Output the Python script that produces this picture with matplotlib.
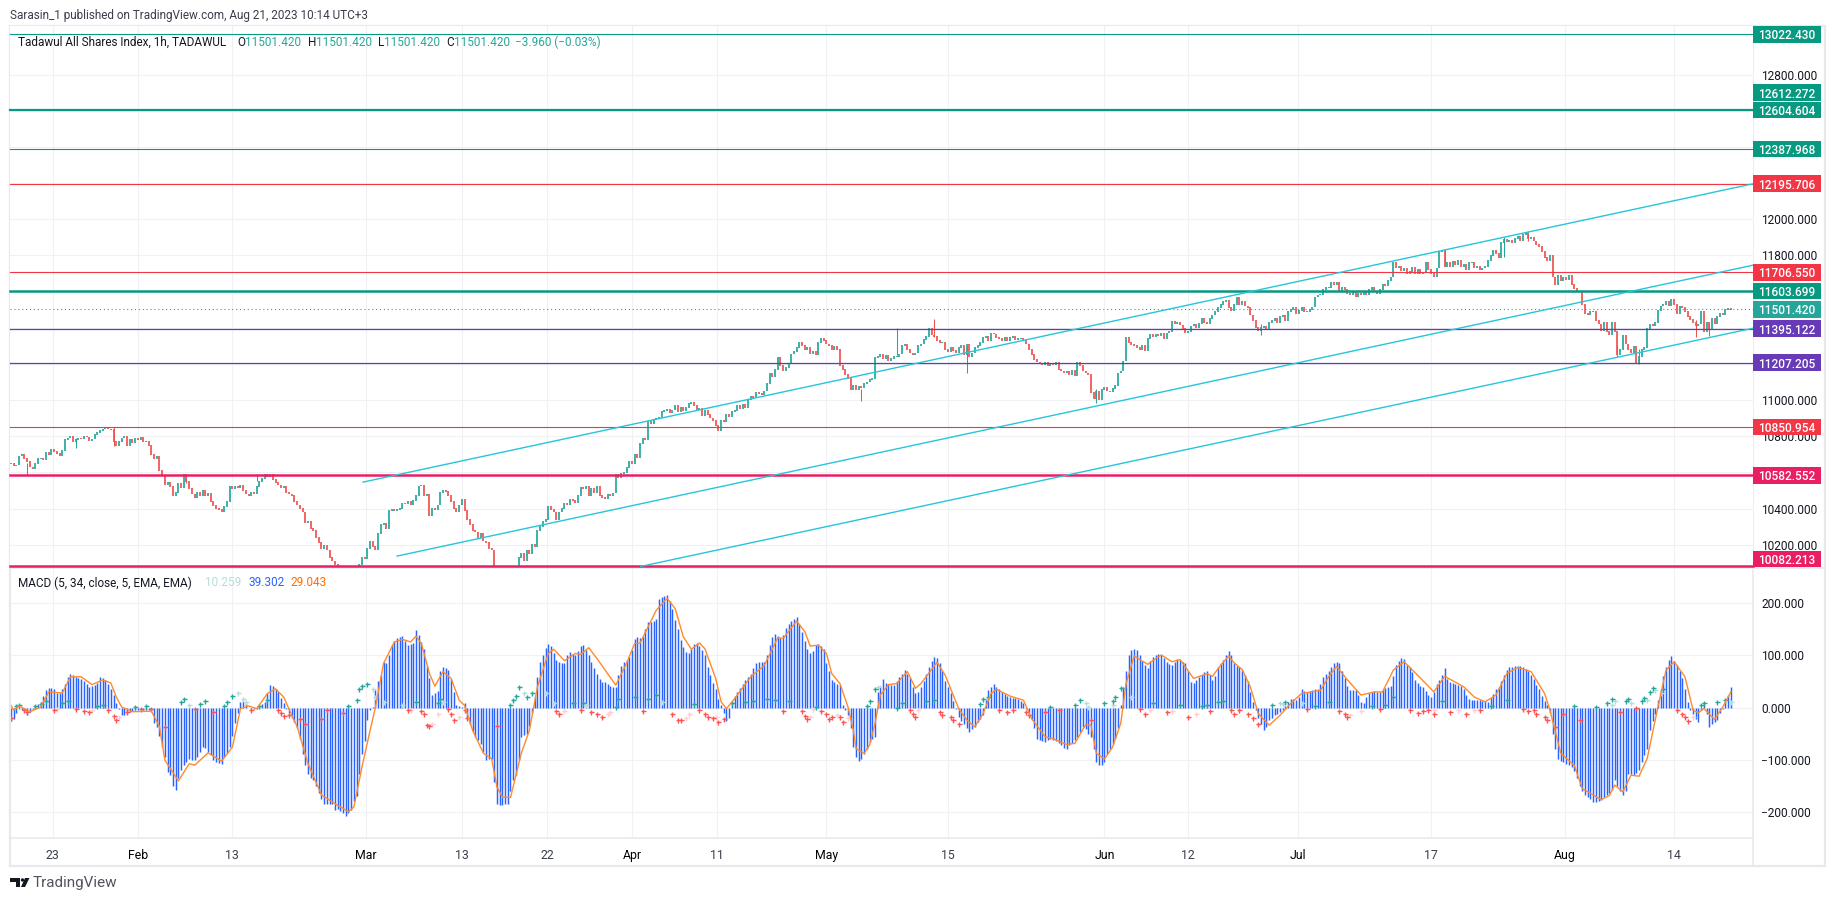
import numpy as np
import matplotlib
matplotlib.use("Agg")
import matplotlib.pyplot as plt
from matplotlib.patches import Rectangle, Circle, Polygon
from matplotlib.transforms import IdentityTransform, blended_transform_factory

plt.rcParams['font.family'] = ['Roboto', 'DejaVu Sans']

W, H = 1835, 901

# hourly closes
close = [
10650,10635,10640,10690,10700,10675,10660,10630,10620,10650,
10675,10680,10670,10710,10700,10725,10715,10705,10695,10720,
10780,10790,10800,10770,10780,10790,10785,10800,10795,10775,
10785,10810,10820,10830,10840,10850,10840,10835,10770,10745,
10770,10790,10800,10750,10780,10765,10790,10780,10795,10770,
10770,10750,10700,10675,10690,10610,10580,10530,10545,10520,
10470,10490,10540,10515,10590,10550,10510,10480,10460,10490,
10470,10500,10470,10485,10440,10415,10400,10395,10380,10410,
10440,10520,10510,10525,10515,10530,10500,10480,10470,10490,
10480,10520,10550,10565,10590,10575,10590,10560,10545,10530,
10515,10520,10490,10480,10470,10440,10420,10400,10380,10320,
10330,10290,10280,10240,10210,10180,10195,10170,10130,10110,
10090,10060,10030,10000,9980,9960,9975,10010,10050,10090,
10130,10120,10180,10220,10190,10170,10260,10310,10320,10290,
10390,10395,10390,10395,10400,10430,10425,10440,10420,10445,
10470,10525,10530,10470,10480,10360,10400,10395,10420,10490,
10500,10495,10470,10440,10400,10380,10420,10450,10390,10340,
10310,10280,10270,10240,10260,10220,10210,10180,10170,10080,
10030,10000,9990,10010,10030,10040,10060,10080,10130,10150,
10110,10170,10150,10200,10190,10280,10300,10330,10340,10410,
10395,10380,10340,10380,10400,10430,10420,10450,10445,10430,
10470,10515,10510,10520,10470,10510,10490,10520,10470,10460,
10455,10480,10470,10485,10590,10570,10595,10600,10625,10660,
10650,10700,10680,10760,10790,10780,10880,10870,10890,10900,
10905,10935,10940,10950,10930,10945,10970,10935,10960,10940,
10960,10982,10985,10970,10945,10955,10915,10940,10920,10900,
10888,10860,10830,10890,10880,10920,10910,10935,10940,10970,
10950,10975,10960,11000,11020,11015,11040,11035,11030,11050,
11090,11145,11130,11170,11235,11190,11165,11180,11200,11255,
11270,11290,11320,11300,11280,11290,11255,11270,11250,11320,
11340,11330,11310,11300,11280,11295,11280,11190,11170,11140,
11120,11060,11080,11060,11075,11070,11090,11100,11115,11120,
11235,11240,11250,11230,11245,11215,11230,11240,11240,11255,
11300,11310,11280,11260,11250,11260,11300,11310,11335,11350,
11395,11360,11350,11330,11320,11320,11280,11270,11290,11275,
11260,11290,11300,11250,11310,11240,11260,11290,11300,11320,
11345,11350,11330,11370,11365,11345,11340,11330,11345,11330,
11345,11350,11335,11340,11340,11330,11310,11280,11250,11225,
11210,11200,11195,11210,11190,11200,11195,11210,11170,11160,
11150,11160,11140,11165,11135,11210,11190,11160,11150,11140,
11040,11010,11050,11000,11060,11070,11050,11045,11065,11080,
11150,11160,11215,11345,11320,11305,11300,11290,11280,11300,
11275,11340,11365,11350,11365,11355,11370,11340,11370,11380,
11435,11425,11430,11415,11395,11370,11380,11410,11420,11400,
11425,11450,11430,11420,11450,11470,11490,11510,11530,11545,
11550,11510,11495,11530,11565,11530,11545,11520,11510,11470,
11440,11400,11385,11400,11410,11395,11430,11440,11450,11430,
11460,11470,11440,11490,11500,11510,11480,11495,11510,11490,
11490,11500,11515,11570,11580,11585,11610,11625,11620,
11650,11640,11650,11600,11625,11610,11590,11585,11600,11570,
11590,11585,11600,11585,11610,11625,11600,11590,11610,11640,
11630,11660,11680,11760,11730,11740,11715,11730,11700,11710,
11735,11700,11720,11700,11705,11760,11720,11700,11680,11730,
11820,11830,11740,11760,11740,11765,11750,11770,11740,11750,
11720,11760,11760,11730,11740,11720,11730,11740,11770,
11800,11825,11810,11790,11870,11890,11875,11885,11870,11895,
11905,11880,11915,11925,11890,11900,11880,11860,11850,11820,
11790,11770,11800,11680,11640,11690,11660,11680,11665,11690,
11640,11615,11600,11600,11530,11480,11470,11490,11490,11440,
11420,11385,11430,11380,11360,11430,11380,11250,11280,11360,
11310,11280,11260,11295,11205,11240,11280,11290,11395,
11420,11410,11430,11495,11520,11530,11545,11520,11555,11530,
11480,11520,11510,11490,11460,11445,11430,11410,11420,11490,
11380,11430,11390,11450,11420,11460,11480,11470,11500,11505,11501.42,
]
# bars with a visible wick
wick_bar = [6,24,38,65,91,315,328,342,354,402,463,531,553,562,595,603,624,629]
wick_high = [10650,10790,10850,10590,10590,11060,11397,11450,11300,11060,11420,11835,11902,11921,11300,11280,11440,11430]
wick_low = [10585,10735,10745,10540,10550,10995,11250,11350,11148,10985,11360,11740,11790,11880,11238,11198,11350,11352]

# MACD columns, one per bar
macd = [
-25,-22,-10,-3,-5,-6,-15,-8,-3,2,
6,11,22,33,38,37,36,28,27,36,
45,59,65,63,59,56,54,50,46,40,
42,43,47,58,56,53,46,35,24,8,
-3,-14,-15,-13,-8,-6,-4,-5,-4,-5,
-4,-4,-5,-30,-38,-55,-76,-95,-124,-130,
-150,-159,-135,-120,-110,-104,-98,-100,-100,-95,
-85,-76,-78,-85,-92,-100,-104,-106,-108,-95,
-88,-75,-55,-30,-10,10,13,8,0,-2,
-3,-2,1,6,11,27,43,42,36,30,
18,8,-2,-11,-20,-28,-40,-60,-90,-110,
-127,-135,-140,-150,-165,-175,-185,-185,-185,-186,
-197,-195,-198,-203,-208,-203,-197,-180,-170,-127,
-90,-65,-24,-5,1,33,50,62,88,85,
100,120,128,133,135,137,128,120,122,124,
149,140,125,113,80,56,24,27,32,70,
78,76,72,55,30,4,2,1,8,-20,
-31,-45,-56,-63,-70,-85,-100,-99,-98,-143,
-185,-188,-187,-186,-185,-160,-140,-130,-100,-56,
-52,-50,-35,-10,20,59,88,100,115,123,
118,105,91,88,85,86,100,107,103,100,
108,118,120,110,100,88,75,65,55,49,
49,46,42,40,40,62,80,88,91,97,
110,132,136,133,136,150,165,165,167,170,
208,212,215,216,205,190,168,150,130,117,
106,104,112,122,124,118,110,100,78,62,
48,35,17,5,-11,-25,-20,11,22,30,
38,46,52,58,65,75,85,87,88,88,
100,120,135,142,138,133,140,152,160,167,
170,173,160,146,128,113,105,108,120,123,
118,113,85,70,52,49,46,43,4,-5,
-15,-40,-75,-95,-103,-98,-90,-80,-66,-60,
-56,30,42,54,48,46,43,43,50,59,
65,72,65,56,40,27,30,40,50,65,
78,90,97,95,85,70,50,40,27,12,
-2,-18,-25,-31,-40,-47,-42,-37,-28,-22,
-15,14,33,40,46,40,35,30,26,22,
20,18,18,17,12,8,-2,-10,-24,-40,
-60,-62,-64,-66,-63,-60,-62,-64,-68,-72,
-78,-79,-72,-69,-62,-56,-47,-37,-42,-50,
-56,-80,-105,-111,-111,-105,-90,-80,-70,-60,
-40,4,40,70,100,110,112,110,100,90,
82,75,90,97,100,103,100,95,88,84,
81,88,94,92,88,85,70,49,48,52,
58,62,68,70,62,53,60,78,86,91,
100,108,100,85,79,78,72,62,50,30,
10,-5,-20,-31,-43,-38,-24,-20,-15,-12,
-8,-4,2,10,17,16,14,20,35,32,
30,32,33,35,36,45,58,65,70,78,
85,88,85,70,56,42,33,33,33,25,
10,8,20,28,30,31,30,30,33,38,
40,42,60,81,90,96,94,81,78,68,
53,48,42,40,32,24,20,30,45,53,
62,75,55,49,47,45,44,42,35,25,
17,15,15,15,14,13,12,11,18,26,
36,40,50,62,72,77,78,79,79,79,
78,74,70,62,55,43,35,22,12,4,
-10,-50,-80,-98,-103,-105,-108,-111,-115,-122,
-135,-150,-160,-168,-172,-175,-182,-181,-180,-178,
-172,-168,-165,-158,-140,-150,-160,-168,-160,-128,
-128,-130,-125,-120,-105,-92,-80,-44,-25,-12,
14,35,60,78,92,99,90,81,70,56,
35,10,-5,-12,-22,-28,-5,5,-12,-37,
-32,-28,-24,-10,-2,11,25,39,
]

# orange signal line, read at the turning points
signal_bar = [0,1,3,7,11,14,19,22,26,30,34,37,39,41,45,52,55,57,62,66,68,73,78,82,85,88,91,95,98,101,104,106,110,115,121,125,127,130,133,135,138,142,145,148,150,152,155,157,160,163,166,168,171,175,178,180,182,185,189,192,195,199,201,205,209,211,214,218,224,228,231,233,239,243,246,249,252,255,257,261,263,265,268,274,279,284,286,291,294,296,299,302,304,307,310,312,313,316,318,320,322,325,328,332,335,337,343,346,351,354,357,360,363,365,370,375,378,383,386,391,394,398,400,402,405,408,411,413,416,421,426,430,433,438,443,445,448,451,453,456,459,462,466,470,474,478,485,488,491,495,500,505,508,512,516,521,527,531,538,542,546,550,554,558,563,568,570,574,579,582,589,592,594,597,600,603,606,610,613,616,620,623,625,627,631,634,637]
signal_val = [4,-5,3,-8,1,30,28,59,59,44,53,47,20,1,-8,-7,-37,-101,-141,-108,-111,-87,-103,-76,-2,3,-2,27,36,20,-15,-37,-108,-168,-188,-200,-191,-114,-44,1,85,126,131,126,137,123,65,41,69,56,14,4,-44,-88,-98,-153,-172,-173,-88,-44,40,104,112,90,104,102,115,87,43,85,123,124,187,210,190,136,112,124,113,56,11,-2,17,59,81,134,133,166,146,118,120,104,65,46,1,-44,-79,-88,-72,-31,24,44,46,69,37,46,87,62,-2,-24,-37,-12,27,35,22,14,-21,-56,-60,-71,-69,-33,-34,-88,-99,-76,-31,46,99,83,101,88,92,56,65,60,81,99,86,73,40,-12,-34,-15,8,27,33,59,79,53,24,30,30,72,88,62,30,60,40,20,11,24,65,77,69,27,-5,-88,-111,-156,-177,-169,-149,-162,-130,-132,-98,1,72,88,59,-5,-10,-2,-23,1,30]

# histogram crosses, four colours
up_bar = [2,3,9,11,13,19,21,32,34,46,50,63,64,70,72,79,80,82,92,95,125,128,129,130,132,150,158,159,185,186,187,188,191,193,208,212,224,225,231,236,239,253,267,272,275,280,283,288,298,317,318,320,328,330,339,342,359,360,362,385,394,396,405,408,409,411,423,433,441,443,447,449,467,472,483,488,504,509,512,530,548,554,579,587,591,593,598,599,604,605,607,608,612,626,627,632,635]
up_val = [3,4,3,6,12,8,13,3,4,1,3,11,17,6,13,3,11,23,3,14,3,15,35,42,45,11,8,17,4,14,23,40,20,27,9,8,1,17,20,17,24,6,9,11,13,17,14,12,1,3,13,35,0,8,12,15,6,17,20,1,4,15,8,12,20,38,8,4,3,4,10,13,4,10,3,11,3,4,20,12,3,15,3,1,8,17,12,17,12,19,30,38,35,4,9,11,14]
up_fade_bar = [66,84,86,87,134,135,138,145,160,190,198,201,213,241,321,398,399,408,415,470,471,478,593,594,600,606,609,611,637]
up_fade_val = [4,28,17,11,35,20,11,4,11,27,27,8,4,11,40,8,1,4,20,8,6,8,4,12,8,15,33,27,10]
down_bar = [0,5,6,16,24,27,29,36,38,39,43,48,52,57,68,75,89,99,100,101,103,107,109,115,117,123,147,152,153,154,155,162,163,164,168,169,180,202,203,211,215,217,219,234,245,247,248,255,257,258,260,262,264,286,293,294,295,300,302,303,304,307,308,333,334,335,344,345,348,349,351,366,369,371,376,377,383,388,400,418,420,428,436,444,452,453,455,458,460,462,480,492,494,495,507,518,521,523,525,527,533,539,544,560,562,564,565,568,569,572,575,581,596,602,617,619,620,621]
down_val = [-21,-4,-8,-4,-3,-6,-8,-5,-16,-24,-8,-2,-2,-37,-2,-8,-4,-5,-10,-17,-15,-23,-31,-23,-5,-10,-4,-6,-12,-33,-36,-3,-13,-24,-4,-21,-36,-6,-13,-4,-8,-12,-19,-6,-13,-24,-24,-4,-12,-18,-21,-28,-23,-6,-7,-17,-23,-6,-13,-23,-19,-18,-28,-4,-12,-18,-8,-15,-18,-24,-31,-4,-8,-4,-8,-15,-8,-5,-24,-3,-12,-8,-18,-6,-5,-13,-5,-13,-21,-31,-3,-6,-13,-18,-3,-5,-10,-6,-5,-12,-8,-12,-5,-3,-6,-5,-13,-18,-24,-38,-12,-24,-8,-1,-5,-12,-18,-26]
down_fade_bar = [17,30,40,148,156,158,166,205,221,222,250,251,261,296,297,306,310,336,422,430,439,455,496,500,527,536,542,623]
down_fade_val = [-3,-5,-19,-5,-31,-13,-18,-6,-12,-8,-21,-13,-19,-18,-2,-15,-21,-5,-4,-6,-12,-4,-15,-6,-4,-4,-4,-18]

# horizontal levels and price tags
level_val = [13022.430,12604.604,12387.968,12195.706,11706.550,11603.699,11395.122,11207.205,10850.954,10582.552,10082.213]
level_col = ['#089981','#089981','#089981','#f23645','#f23645','#089981','#673ab7','#673ab7','#f23645','#e91e63','#e91e63']
level_lw = [0.8,1.6,0.8,0.8,0.8,1.8,0.9,0.9,0.8,1.8,1.8]
tag_val = [13022.430,12612.272,12604.604,12387.968,12195.706,11706.550,11603.699,11501.420,11395.122,11207.205,10850.954,10582.552,10082.213]
tag_pos = [13022.430,12699,12604.604,12387.968,12195.706,11706.550,11603.699,11501.420,11395.122,11207.205,10850.954,10582.552,10121]
tag_col = ['#089981','#089981','#089981','#089981','#f23645','#f23645','#089981','#26a69a','#673ab7','#673ab7','#f23645','#e91e63','#e91e63']

# channel lines
chan_x0 = [130.4,143,233.3]
chan_y0 = [10546,10137,10080]
chan_x1 = [645.2,645.2,645.2]
chan_y1 = [12195.7,11745.6,11397]

time_ticks = [15.4,46.9,81.9,131.5,167,198.5,230,261.5,302,347,405,436,476.7,526,575.5,615.9]
time_labels = ['23','Feb','13','Mar','13','22','Apr','11','May','15','Jun','12','Jul','17','Aug','14']
month_labels = ['Feb','Mar','Apr','May','Jun','Jul','Aug']
price_ticks = [10200,10400,10600,10800,11000,11200,11400,11600,11800,12000,12200,12400,12600,12800]
macd_ticks = [-200,-100,0,100,200]

GRID = '#f0f1f4'
EDGE = '#e6e8ee'
UP = '#26a69a'
DOWN = '#ef5350'
TEXT = '#131722'


def make_axes(left, top, right, bottom):
    ax = fig.add_axes([left/W, 1-bottom/H, (right-left)/W, (bottom-top)/H])
    for s in ax.spines.values():
        s.set_visible(False)
    ax.set_xlim(-0.37, 645.2)
    ax.set_xticks(time_ticks)
    ax.yaxis.tick_right()
    ax.tick_params(length=0, labelsize=8.6, labelcolor=TEXT, pad=6)
    ax.grid(True, color=GRID, lw=0.8)
    ax.set_axisbelow(True)
    return ax


def px_patch(p):
    p.set_transform(IdentityTransform())
    fig.add_artist(p)


fig = plt.figure(figsize=(W/100, H/100), dpi=100)

ax1 = make_axes(10, 26, 1753, 567)
ax2 = make_axes(10, 567, 1753, 838)
ax1.set_zorder(3)
ax1.set_ylim(10076.5, 13068.3)
ax2.set_ylim(-250.7, 270)
ax1.set_xticklabels([])
ax1.set_yticks(price_ticks)
ax1.set_yticklabels(['%.3f' % v for v in price_ticks])
ax2.set_yticks(macd_ticks)
ax2.set_yticklabels([('%.3f' % v).replace('-', '\u2212') for v in macd_ticks])

# price pane
close = np.array(close, dtype=float)
bars = np.arange(len(close))
opens = np.r_[close[0], close[:-1]]
rising = close >= opens
ax1.vlines(wick_bar, wick_low, wick_high,
           colors=[UP if rising[b] else DOWN for b in wick_bar], lw=0.75, zorder=3)
ax1.vlines(bars, np.minimum(opens, close)-2, np.maximum(opens, close)+2,
           colors=[UP if r else DOWN for r in rising], lw=1.25, zorder=3)

for v, c, lw in zip(level_val, level_col, level_lw):
    ax1.axhline(v, color=c, lw=lw, zorder=4, clip_on=False)
for x0, y0, x1, y1 in zip(chan_x0, chan_y0, chan_x1, chan_y1):
    ax1.plot([x0, x1], [y0, y1], color='#26c6da', lw=1.0, zorder=5)
ax1.axhline(tag_val[7], color=UP, lw=0.8, ls=(0, (1, 2.5)), zorder=4)

tr = blended_transform_factory(ax1.transAxes, ax1.transData)
for v, pos, c in zip(tag_val, tag_pos, tag_col):
    ax1.add_patch(Rectangle((1.0, pos-46), 0.039, 92, transform=tr, facecolor=c,
                            edgecolor='none', clip_on=False, zorder=10))
    ax1.text(1.0195, pos, '%.3f' % v, transform=tr, color='white', fontsize=8.6,
             fontweight='medium', ha='center', va='center_baseline', clip_on=False, zorder=11)

# MACD pane
ax2.vlines(bars, 0, macd, colors='#2962ff', lw=1.05, zorder=3)
ax2.axhline(0, color=GRID, lw=0.8, zorder=1)
ax2.plot(up_fade_bar, up_fade_val, '+', color='#b2dfdb', ms=3.6, mew=1.0, zorder=4)
ax2.plot(down_fade_bar, down_fade_val, '+', color='#ffcdd2', ms=3.6, mew=1.0, zorder=4)
ax2.plot(up_bar, up_val, '+', color=UP, ms=3.6, mew=1.0, zorder=4)
ax2.plot(down_bar, down_val, '+', color='#ff5252', ms=3.6, mew=1.0, zorder=4)
ax2.plot(signal_bar, signal_val, color='#ff8a2a', lw=1.0, zorder=5)

ax2.set_xticklabels(time_labels)
ax2.tick_params(axis='x', pad=8, labelsize=8.8)
for lab in ax2.get_xticklabels():
    lab.set_color('#000000' if lab.get_text() in month_labels else '#3a3e4a')

# frame of the chart
px_patch(Rectangle((10, H-866), 1815, 840, fill=False, edgecolor=EDGE, lw=1.6))
for x0, y0, x1, y1 in [(1753, 26, 1753, 866), (10, 838, 1753, 838), (10, 568, 1825, 568)]:
    px_patch(Polygon([(x0, H-y0), (x1, H-y1)], closed=False, fill=False, edgecolor=EDGE, lw=1.1))

# header and legends
def label(x, y, s, color, size=8.5):
    fig.text(x/W, 1-y/H, s, color=color, fontsize=size, ha='left', va='center')

label(10, 15, 'Sarasin_1 published on TradingView.com, Aug 21, 2023 10:14 UTC+3', '#3a3e4a')
label(18.5, 42, 'Tadawul All Shares Index, 1h, TADAWUL', TEXT)
for x, s in [(237, 'O'), (308, 'H'), (377.5, 'L'), (446, 'C')]:
    label(x, 42, s, TEXT)
for x in [245, 316, 384, 454]:
    label(x, 42, '11501.420', UP)
label(515, 42, '\u22123.960 (\u22120.03%)', UP)
label(18, 583, 'MACD (5, 34, close, 5, EMA, EMA)', TEXT)
label(205, 583, '10.259', '#b2dfdb')
label(248, 583, '39.302', '#2962ff')
label(290.5, 583, '29.043', '#ff6d00')

# lightning badge
px_patch(Circle((1732, H-555), 10, fill=False, edgecolor='#9c27b0', lw=1.1))
px_patch(Polygon([(1735, H-547), (1728, H-556), (1732, H-556), (1729, H-563), (1736, H-553), (1732, H-553)],
                 closed=True, facecolor='#9c27b0', edgecolor='none'))

# TradingView logo
px_patch(Polygon([(10, H-878), (20, H-878), (20, H-887), (16, H-887), (16, H-882), (10, H-882)],
                 closed=True, facecolor='#131722', edgecolor='none'))
px_patch(Circle((22.5, H-880), 1.7, facecolor='#131722', edgecolor='none'))
px_patch(Polygon([(25, H-878), (29.5, H-878), (25, H-887), (21, H-887)],
                 closed=True, facecolor='#131722', edgecolor='none'))
label(33, 883, 'TradingView', '#50535e', 11)

plt.savefig('out.png', dpi=100)
